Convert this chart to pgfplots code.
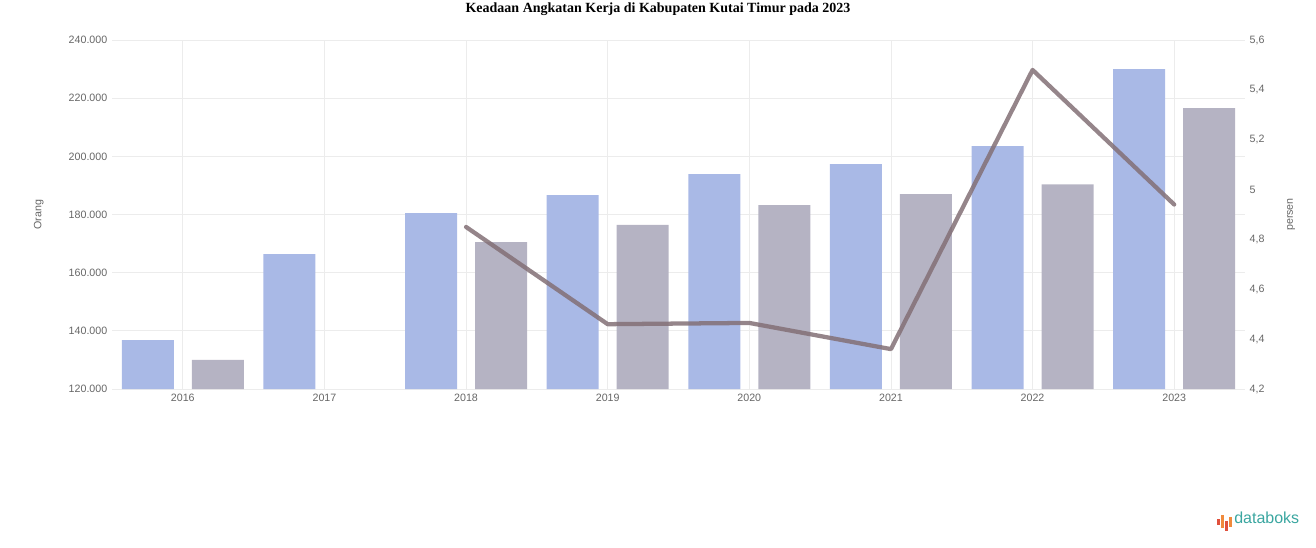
\documentclass[border=0pt]{standalone}
\usepackage{fontspec}
\setmainfont{Liberation Serif}
\setsansfont{Liberation Sans}
\usepackage{pgfplots}
\pgfplotsset{compat=1.18}
\definecolor{barblue}{HTML}{A9B9E6}
\definecolor{bargray}{HTML}{B5B3C3}
\definecolor{linemauve}{HTML}{837076}
\definecolor{tickgray}{HTML}{666666}
\definecolor{gridgray}{HTML}{ECECEC}
\definecolor{dbteal}{HTML}{3AA6A0}
\definecolor{dborange}{HTML}{F08A3C}
\definecolor{dbred}{HTML}{E0503C}

\begin{document}
\begin{tikzpicture}[x=0.75pt,y=0.75pt]
\path[use as bounding box] (0,0) rectangle (1316,547);

% title
\node[font=\rmfamily\bfseries\fontsize{10.5}{12}\selectfont] at (658,538) {Keadaan Angkatan Kerja di Kabupaten Kutai Timur pada 2023};

\pgfplotsset{
  base/.style={
    at={(84pt,118.5pt)}, anchor=south west,
    scale only axis, width=849.75pt, height=261.75pt,
    xmin=-0.5, xmax=7.5,
    ticklabel style={font=\sffamily\fontsize{8}{9}\selectfont, text=tickgray},
    label style={font=\sffamily\fontsize{8}{9}\selectfont, text=tickgray},
    /pgf/number format/assume math mode=true,
  }
}

\begin{axis}[
  base,
  axis y line*=left, axis x line*=bottom,
  axis line style={draw=none},
  major tick style={draw=none},
  xtick={0,...,7},
  xticklabels={2016,2017,2018,2019,2020,2021,2022,2023},
  ymin=120000, ymax=240000,
  ytick={120000,140000,160000,180000,200000,220000,240000},
  scaled y ticks=false,
  yticklabel style={/pgf/number format/.cd, fixed, 1000 sep={.}},
  xmajorgrids, ymajorgrids,
  grid style={gridgray, line width=0.6pt},
  ylabel={Orang},
  ylabel shift=12pt,
  bar width=0.367,
]
\addplot[ybar, bar shift=-0.247, fill=barblue, draw=none] coordinates {
  (0,136800) (1,166400) (2,180500) (3,186700) (4,193900) (5,197300) (6,203500) (7,230000)
};
\addplot[ybar, bar shift=0.247, fill=bargray, draw=none] coordinates {
  (0,130000) (2,170500) (3,176400) (4,183200) (5,187000) (6,190400) (7,216600)
};
\end{axis}

\begin{axis}[
  base,
  axis y line*=right, axis x line=none,
  axis line style={draw=none},
  major tick style={draw=none},
  ymin=4.2, ymax=5.6,
  ytick={4.2,4.4,4.6,4.8,5,5.2,5.4,5.6},
  yticklabel style={/pgf/number format/.cd, fixed, use comma},
  ylabel={persen},
  ylabel shift=10pt,
]
\addplot[linemauve, line width=3.2pt, opacity=0.85, line join=round, line cap=round] coordinates {
  (2,4.85) (3,4.46) (4,4.465) (5,4.36) (6,5.48) (7,4.94)
};
\end{axis}

% databoks logo
\fill[dbred] (1217,22) rectangle (1219.5,28);
\fill[dborange] (1221,19) rectangle (1223.5,32);
\fill[dbred] (1225,16) rectangle (1227.5,26);
\fill[dborange] (1229,20) rectangle (1231.5,30);
\node[anchor=west, text=dbteal, font=\sffamily\fontsize{12}{13}\selectfont, inner sep=0pt] at (1234,29) {databoks};
\end{tikzpicture}
\end{document}
